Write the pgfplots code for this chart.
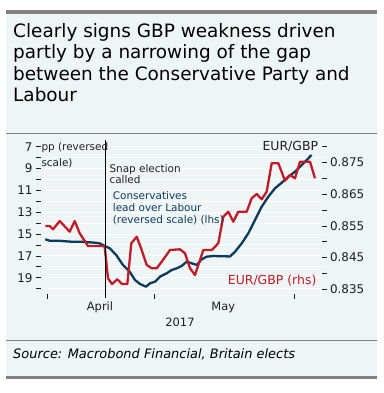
\documentclass[border=0pt]{standalone}
\usepackage{fontspec}
\setmainfont{DejaVu Sans}
\usepackage{pgfplots}
\pgfplotsset{compat=1.18}
\definecolor{bg}{RGB}{239,245,245}
\definecolor{framec}{RGB}{128,128,128}
\definecolor{navy}{RGB}{12,58,95}
\definecolor{dred}{RGB}{192,28,40}
\definecolor{txt}{RGB}{30,30,30}
\begin{document}
\begin{tikzpicture}
\useasboundingbox (0,0) rectangle (384bp,-393bp);
\fill[bg] (5.5bp,-13bp) rectangle (376.7bp,-377bp);
\draw[framec, line width=3.5bp] (5.5bp,-12bp) -- (376.7bp,-12bp);
\draw[framec, line width=1bp] (5.5bp,-133.3bp) -- (376.7bp,-133.3bp);
\draw[framec, line width=1bp] (5.5bp,-340bp) -- (376.7bp,-340bp);
\draw[framec, line width=2.5bp] (5.5bp,-377.3bp) -- (376.7bp,-377.3bp);
% title
\begin{scope}[every node/.style={anchor=base west, inner sep=0pt, text=black, font=\fontsize{18.5}{21}\selectfont}]
\node at (13bp,-37.3bp) {Clearly signs GBP weakness driven};
\node at (13bp,-58.8bp) {partly by a narrowing of the gap};
\node at (13bp,-80.3bp) {between the Conservative Party and};
\node at (13bp,-101.8bp) {Labour};
\end{scope}
\node[anchor=base west, inner sep=0pt, font=\fontsize{13}{15}\selectfont\itshape] at (13bp,-358.3bp) {Source: Macrobond Financial, Britain elects};

\begin{axis}[
  at={(41bp,-294bp)}, anchor=south west, scale only axis,
  width=280.5bp, height=154bp,
  xmin=41, xmax=321.5, ymin=6.3864, ymax=20.489, y dir=reverse,
  axis x line*=bottom, axis y line*=left,
  axis line style={draw=none},
  ytick={7,8,9,10,11,12,13,14,15,16,17,18,19,20},
  yticklabels={7,,9,,11,,13,,15,,17,,19,},
  xtick={47.7,154.3,294}, xticklabels={},
  ymajorgrids, major grid style={white, line width=1bp},
  tick style={txt, line width=0.8bp},
  major tick length=5bp, tick align=outside,
  yticklabel style={font=\fontsize{12}{14}\selectfont, text=txt},
  clip=false,
]
\addplot[navy, line width=2.3bp, line join=round] coordinates {
(45.3,15.48) (49.7,15.61) (58,15.61) (71.3,15.70) (81.3,15.70) (94.7,15.79)
(99.7,15.85) (104.7,16.09) (109.7,16.30) (116.3,16.92) (123,17.84) (129.7,18.45)
(135,19.21) (140,19.57) (146,19.82) (150,19.51) (155,19.36) (160,18.90)
(166.7,18.59) (171.7,18.29) (176.7,18.14) (181.7,17.92) (186.7,17.53) (191.7,17.68)
(196.7,17.83) (201.7,17.31) (206.7,17.07) (213.3,17.01) (230,17.05) (235,16.62)
(241.7,15.85) (248.3,14.93) (255,13.71) (261.7,12.49) (268.3,11.58) (275,10.81)
(281.7,10.30) (288.3,9.75) (295,9.29) (301.7,8.68) (306.7,8.22) (311.5,7.76)
};
\end{axis}

\begin{axis}[
  at={(41bp,-294bp)}, anchor=south west, scale only axis,
  width=280.5bp, height=154bp,
  xmin=41, xmax=321.5, ymin=0.83352, ymax=0.88211,
  axis y line*=right, axis x line=none,
  axis line style={draw=none},
  ytick={0.835,0.840,0.845,0.850,0.855,0.860,0.865,0.870,0.875,0.880},
  yticklabels={0.835,,0.845,,0.855,,0.865,,0.875,},
  tick style={txt, line width=0.8bp},
  major tick length=5bp, tick align=outside,
  yticklabel style={font=\fontsize{12}{14}\selectfont, text=txt},
  clip=false,
]
\addplot[dred, line width=2.3bp, line join=round] coordinates {
(45.3,0.8550) (49.7,0.8550) (53,0.85393) (59.7,0.85655) (69.7,0.85318) (74.7,0.85655)
(79.7,0.85267) (88,0.84866) (103,0.84866) (104.7,0.84844) (108,0.83847) (112,0.83667)
(117.3,0.83816) (122,0.83667) (127.3,0.83667) (131.3,0.84952) (136.7,0.8516) (141.7,0.8474)
(146.7,0.84267) (151.7,0.84163) (156.7,0.84163) (161.7,0.84371) (170,0.8474) (180,0.84762)
(185,0.84636) (190,0.84163) (195,0.83951) (198.3,0.84267) (203.3,0.8474) (211.7,0.8474)
(218.3,0.84952) (223.3,0.85791) (228.3,0.85949) (233.3,0.85633) (238.3,0.85949) (246.7,0.85949)
(251.7,0.86372) (256.7,0.86507) (261.7,0.8634) (266.7,0.8658) (271.7,0.8748) (278.3,0.8748)
(285,0.86927) (290,0.87107) (295,0.87003) (300,0.87527) (310,0.87527) (315,0.87003)
};
\end{axis}

\draw[black, line width=0.9bp] (105.3bp,-140bp) -- (105.3bp,-298bp);

\begin{scope}[every node/.style={inner sep=0pt, font=\fontsize{10.5}{12}\selectfont, text=txt}]
\node[anchor=base west] at (41.3bp,-150.5bp) {pp (reversed};
\node[anchor=base west] at (41.3bp,-166bp) {scale)};
\node[anchor=base west] at (109.3bp,-172.7bp) {Snap election};
\node[anchor=base west] at (109.3bp,-183.7bp) {called};
\node[anchor=base west, text=navy] at (112.7bp,-199.3bp) {Conservatives};
\node[anchor=base west, text=navy] at (112.7bp,-211.5bp) {lead over Labour};
\node[anchor=base west, text=navy] at (112.7bp,-223.5bp) {(reversed scale) (lhs)};
\end{scope}
\node[anchor=base west, inner sep=0pt, text=dred, font=\fontsize{12.5}{14}\selectfont] at (227.7bp,-284bp) {EUR/GBP (rhs)};
\node[anchor=base east, inner sep=0pt, text=txt, font=\fontsize{12.5}{14}\selectfont] at (318.3bp,-150.7bp) {EUR/GBP};
\begin{scope}[every node/.style={anchor=base, inner sep=0pt, font=\fontsize{11.5}{13}\selectfont, text=txt}]
\node at (100bp,-310.7bp) {April};
\node at (223.3bp,-310.7bp) {May};
\node at (180bp,-326bp) {2017};
\end{scope}
\end{tikzpicture}
\end{document}
